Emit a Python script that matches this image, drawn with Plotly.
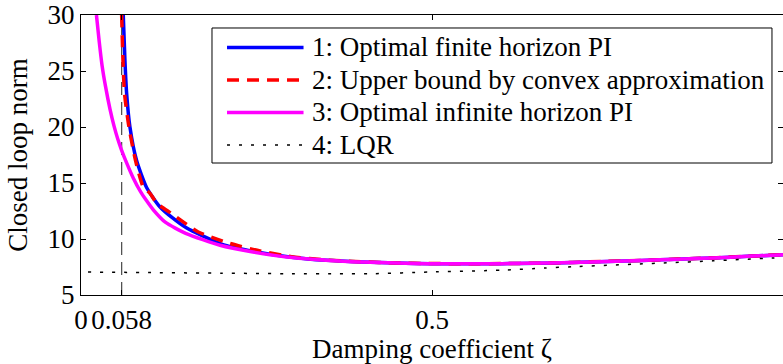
import plotly.graph_objects as go

# Damping coefficient sweep (zeta) and closed-loop norms
zeta_min = 0.058

zeta_fin = [0.0602, 0.0626, 0.065, 0.0697, 0.0792, 0.0934, 0.112, 0.13, 0.15,
            0.2, 0.25, 0.3, 0.35, 0.4, 0.45, 0.5, 0.55, 0.6, 0.65, 0.7,
            0.75, 0.8, 0.85, 0.9, 0.95, 1.0]
norm_fin = [30.0, 25.9, 23.0, 20.0, 17.0, 14.6, 12.9, 11.9, 11.0,
            9.55, 8.85, 8.38, 8.1, 7.95, 7.85, 7.8, 7.78, 7.8, 7.83, 7.9,
            8.0, 8.08, 8.2, 8.3, 8.45, 8.6]

zeta_ub = [0.0579, 0.0598, 0.062, 0.0683, 0.0777, 0.089, 0.098, 0.108, 0.129,
           0.167, 0.21, 0.255, 0.3, 0.35, 0.4, 0.45, 0.5, 0.55, 0.6, 0.65,
           0.7, 0.75, 0.8, 0.85, 0.9, 0.95, 1.0]
norm_ub = [30.0, 25.9, 23.0, 20.0, 17.0, 14.6, 14.1, 13.2, 12.27,
           10.63, 9.64, 8.93, 8.42, 8.12, 7.96, 7.86, 7.81, 7.79, 7.81, 7.84,
           7.91, 8.01, 8.09, 8.21, 8.31, 8.46, 8.61]

zeta_inf = [0.022, 0.026, 0.03, 0.035, 0.0413, 0.047, 0.0525, 0.058, 0.065,
            0.0744, 0.085, 0.093, 0.103, 0.12, 0.15, 0.198, 0.245, 0.293,
            0.354, 0.4, 0.45, 0.496, 0.55, 0.6, 0.667, 0.7, 0.75, 0.824,
            0.85, 0.9, 0.95, 1.0]
norm_inf = [30.0, 27.6, 25.5, 23.6, 21.6, 20.1, 18.9, 17.9, 16.8,
            15.45, 14.2, 13.45, 12.6, 11.5, 10.48, 9.44, 8.84, 8.39,
            8.09, 7.95, 7.85, 7.8, 7.78, 7.8, 7.86, 7.9, 8.0, 8.14,
            8.2, 8.3, 8.45, 8.6]

zeta_lqr = [0.01, 0.1, 0.2, 0.3, 0.368, 0.415, 0.496, 0.6, 0.66, 0.7,
            0.8, 0.83, 0.9, 0.984, 1.0]
norm_lqr = [7.05, 7.0, 6.95, 6.9, 6.9, 6.9, 7.05, 7.22, 7.41, 7.52,
            7.78, 7.86, 8.05, 8.3, 8.35]

x_tickvals = [0, zeta_min, 0.5, 1]
x_ticktext = ["0", "0.058", "0.5", "1"]
y_tickvals = [5, 10, 15, 20, 25, 30]
y_range = [5, 30]

FONT = '"Liberation Serif", "Times New Roman", Times, serif'
FS = 27

series = [
    ("1: Optimal finite horizon PI", zeta_fin, norm_fin,
     dict(color="#0000ff", width=3.5)),
    ("2: Upper bound by convex approximation", zeta_ub, norm_ub,
     dict(color="#ff0000", width=3.5, dash="12px,8px")),
    ("3: Optimal infinite horizon PI", zeta_inf, norm_inf,
     dict(color="#ff00ff", width=3.5)),
    ("4: LQR", zeta_lqr, norm_lqr,
     dict(color="#000000", width=1.5, dash="3px,9px")),
]

fig = go.Figure()

# vertical marker at the smallest feasible damping coefficient
fig.add_trace(go.Scatter(
    x=[zeta_min, zeta_min], y=y_range, mode="lines",
    line=dict(color="#222222", width=1, dash="13px,7px"),
    showlegend=False, hoverinfo="skip"))

for name, xs, ys, style in series:
    fig.add_trace(go.Scatter(
        x=xs, y=ys, mode="lines", name=name,
        line=dict(shape="spline", smoothing=0.6, **style)))

# boxed legend in the upper right of the axes (paper coordinates)
box = dict(x0=0.1866, x1=0.9843, y0=0.4714, y1=0.9536)
sample_x = (0.208, 0.317)
text_x = 0.3276
row_y = [0.884, 0.768, 0.652, 0.536]

shapes = [dict(type="rect", xref="paper", yref="paper", layer="above",
               line=dict(color="black", width=1), fillcolor="white", **box)]
annotations = []
for (name, _, _, style), ry in zip(series, row_y):
    shapes.append(dict(type="line", xref="paper", yref="paper", layer="above",
                       x0=sample_x[0], x1=sample_x[1], y0=ry, y1=ry,
                       line=style))
    annotations.append(dict(xref="paper", yref="paper", x=text_x, y=ry,
                            xanchor="left", yanchor="middle", text=name,
                            showarrow=False, borderpad=0,
                            font=dict(family=FONT, size=FS, color="black")))

axis_common = dict(
    showline=True, linecolor="black", linewidth=1.3, mirror="ticks",
    ticks="inside", ticklen=5, tickcolor="black", tickwidth=1,
    showgrid=False, zeroline=False,
    tickfont=dict(family=FONT, size=FS, color="black"),
)

fig.update_layout(
    width=783, height=364,
    margin=dict(l=81, r=0, t=15, b=69),
    paper_bgcolor="white", plot_bgcolor="white",
    font=dict(family=FONT, size=FS, color="black"),
    xaxis=dict(range=[0, 1], tickvals=x_tickvals, ticktext=x_ticktext,
               title=dict(text="Damping coefficient ζ",
                          font=dict(family=FONT, size=FS), standoff=0),
               **axis_common),
    yaxis=dict(range=y_range, tickvals=y_tickvals,
               title=dict(text="Closed loop norm",
                          font=dict(family=FONT, size=FS), standoff=12),
               **axis_common),
    shapes=shapes,
    annotations=annotations,
    showlegend=False,
)

fig.write_html("out.html")
